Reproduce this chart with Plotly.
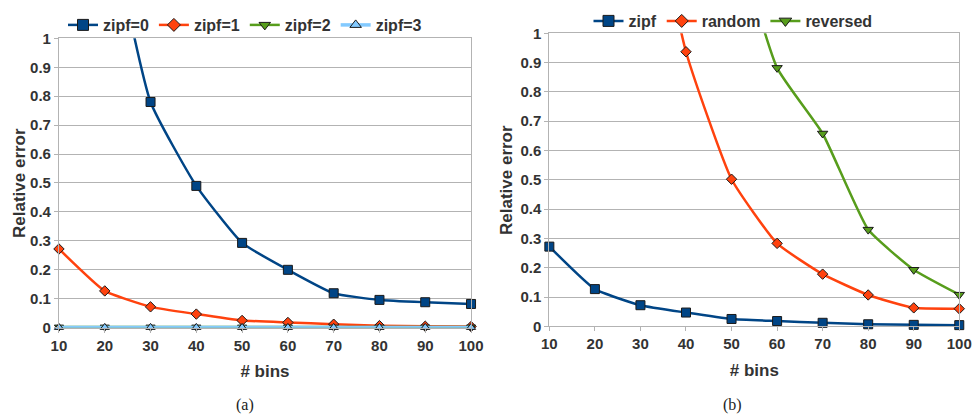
import plotly.graph_objects as go

# number of histogram bins
bins = [10, 20, 30, 40, 50, 60, 70, 80, 90, 100]

# (a) relative error per zipf skew
zipf0 = [2.6, 1.5, 0.78, 0.49, 0.293, 0.20, 0.119, 0.096, 0.088, 0.082]
zipf1 = [0.272, 0.127, 0.072, 0.047, 0.025, 0.018, 0.012, 0.007, 0.005, 0.004]
zipf2 = [0.002, 0.002, 0.002, 0.002, 0.002, 0.002, 0.002, 0.002, 0.002, 0.002]
zipf3 = [0.001, 0.001, 0.001, 0.001, 0.001, 0.001, 0.001, 0.001, 0.001, 0.001]

# (b) relative error per data ordering
zipf = [0.272, 0.127, 0.072, 0.047, 0.025, 0.018, 0.012, 0.007, 0.005, 0.004]
random_ = [5.0, 3.0, 1.7, 0.937, 0.502, 0.283, 0.178, 0.107, 0.063, 0.060]
reversed_ = [6.0, 4.5, 3.2, 2.2, 1.4, 0.882, 0.658, 0.330, 0.193, 0.108]

y_ticks = [0, 0.1, 0.2, 0.3, 0.4, 0.5, 0.6, 0.7, 0.8, 0.9, 1]
y_ticktext = ["0", "0.1", "0.2", "0.3", "0.4", "0.5", "0.6", "0.7", "0.8", "0.9", "1"]

BLUE = "#004586"
ORANGE = "#ff420e"
GREEN = "#579d1c"
LIGHT = "#83caff"
TXT = "#333333"
GRID = "#b3b3b3"
FONT = "Liberation Sans"
W, H = 973, 416

fig = go.Figure()


def add_series(name, y, color, symbol, msize, xa, ya, legend, lw=2.5):
    # smoothed curve, clipped to the plot area
    fig.add_trace(go.Scatter(
        x=bins, y=y, mode="lines", xaxis=xa, yaxis=ya,
        line=dict(color=color, width=lw, shape="spline", smoothing=0.45),
        showlegend=False, hoverinfo="skip", legendgroup=name + legend))
    # markers for the points inside the axis range
    fig.add_trace(go.Scatter(
        x=bins, y=[v if v <= 1 else None for v in y], mode="markers",
        xaxis=xa, yaxis=ya, cliponaxis=False,
        marker=dict(color=color, symbol=symbol, size=msize,
                    line=dict(color="#1a1a1a", width=1)),
        showlegend=False, legendgroup=name + legend))
    # legend entry
    fig.add_trace(go.Scatter(
        x=[None], y=[None], mode="lines+markers", name=name,
        xaxis=xa, yaxis=ya, legend=legend, legendgroup=name + legend,
        line=dict(color=color, width=lw),
        marker=dict(color=color, symbol=symbol, size=msize + 2,
                    line=dict(color="#1a1a1a", width=1))))


add_series("zipf=0", zipf0, BLUE, "square", 9, "x", "y", "legend")
add_series("zipf=1", zipf1, ORANGE, "diamond", 8, "x", "y", "legend")
add_series("zipf=2", zipf2, GREEN, "triangle-down", 8, "x", "y", "legend")
add_series("zipf=3", zipf3, LIGHT, "triangle-up", 8, "x", "y", "legend", lw=3.5)

add_series("zipf", zipf, BLUE, "square", 9, "x2", "y2", "legend2")
add_series("random", random_, ORANGE, "diamond", 8, "x2", "y2", "legend2")
add_series("reversed", reversed_, GREEN, "triangle-down", 9, "x2", "y2", "legend2")

tickfont = dict(family=FONT, size=15, color=TXT, weight="bold")
titlefont = dict(family=FONT, size=17, color=TXT, weight="bold")

xcommon = dict(range=[10, 100], tickvals=bins, ticktext=[str(b) for b in bins],
               showgrid=False, showline=True, linecolor=GRID, mirror=True,
               ticks="outside", ticklen=4, tickcolor=GRID, tickfont=tickfont,
               title=dict(text="# bins", font=titlefont, standoff=12),
               zeroline=False, automargin=False)
ycommon = dict(range=[0, 1], tickvals=y_ticks, ticktext=y_ticktext,
               showgrid=True, gridcolor=GRID, gridwidth=1,
               showline=True, linecolor=GRID, mirror=True,
               ticks="outside", ticklen=4, tickcolor=GRID, tickfont=tickfont,
               zeroline=False, automargin=False)

legfont = dict(family=FONT, size=16, color=TXT, weight="bold")


def px(xp, yp):
    return dict(x=xp / W, y=1 - yp / H, xref="paper", yref="paper",
                xanchor="center", yanchor="middle", showarrow=False)


fig.update_layout(
    width=W, height=H,
    margin=dict(l=0, r=0, t=0, b=0, autoexpand=False),
    paper_bgcolor="white", plot_bgcolor="white",
    xaxis=dict(domain=[0.0606, 0.4841], anchor="y", **xcommon),
    yaxis=dict(domain=[0.2123, 0.9079], anchor="x", **ycommon),
    xaxis2=dict(domain=[0.5646, 0.9859], anchor="y2", **xcommon),
    yaxis2=dict(domain=[0.2156, 0.92], anchor="x2", **ycommon),
    legend=dict(orientation="h", x=245 / W, xanchor="center", y=1 - 8 / H, yanchor="top",
                font=legfont, itemwidth=30, bgcolor="rgba(0,0,0,0)"),
    legend2=dict(orientation="h", x=733 / W, xanchor="center", y=1 - 4 / H, yanchor="top",
                 font=legfont, itemwidth=30, bgcolor="rgba(0,0,0,0)"),
    showlegend=True,
    annotations=[
        dict(text="Relative error", textangle=-90, font=titlefont, **px(19, 183)),
        dict(text="Relative error", textangle=-90, font=titlefont, **px(506, 180)),
        dict(text="(a)", font=dict(family="Liberation Serif", size=16, color="#222"),
             **px(245, 405)),
        dict(text="(b)", font=dict(family="Liberation Serif", size=16, color="#222"),
             **px(732, 405)),
    ],
)

fig.write_html("out.html")
